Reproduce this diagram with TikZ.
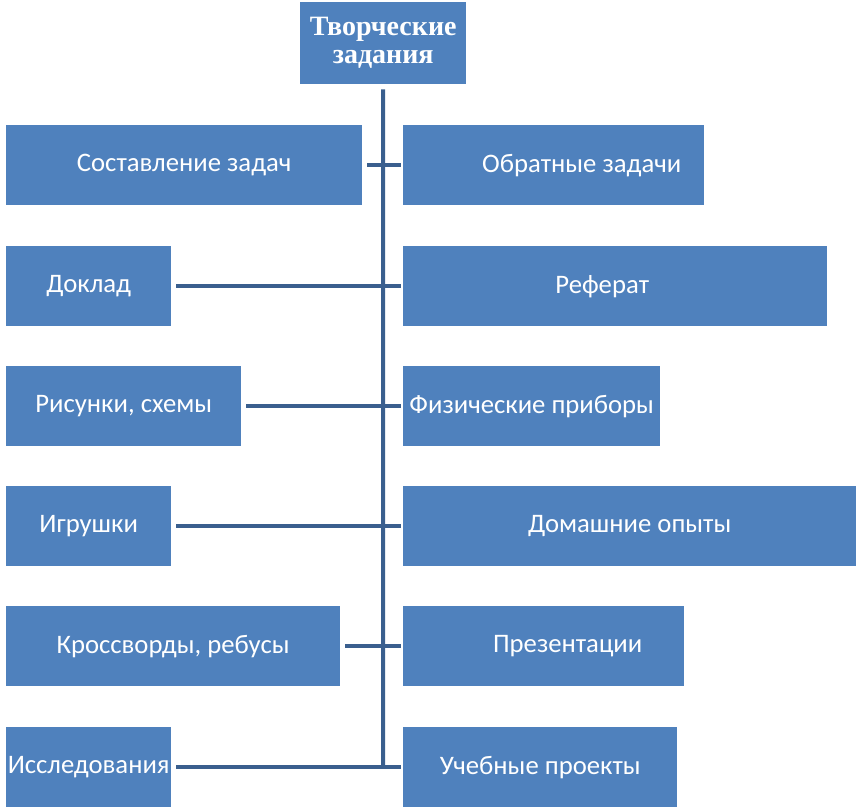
\documentclass[tikz,border=0pt]{standalone}
\usepackage{fontspec}
\setmainfont{Carlito}
\newfontfamily\titlefont{Liberation Serif}
\definecolor{boxblue}{RGB}{79,129,189}
\definecolor{lineblue}{RGB}{58,95,142}
\begin{document}
\begin{tikzpicture}[x=1pt,y=-1pt,
  box/.style={fill=boxblue, text=white, anchor=north west, minimum height=80, inner sep=0pt, font=\fontsize{26.7}{30}\selectfont},
  lbl/.style={text=white, inner sep=0pt, font=\fontsize{26.7}{30}\selectfont},
  link/.style={draw=lineblue, line width=4pt}]
  \useasboundingbox (0,0) rectangle (862,811);
  %top
  \node[box, minimum width=166, minimum height=82, align=center, font=\titlefont\bfseries\fontsize{28}{28}\selectfont] (top) at (300,2) {Творческие\\задания};
  \coordinate (bot) at (383,768);

  \node[box, minimum width=356] (l1) at (6,125) {Составление задач};
  \node[box, minimum width=165] (l2) at (6,246) {Доклад};
  \node[box, minimum width=235] (l3) at (6,366) {Рисунки, схемы};
  \node[box, minimum width=165] (l4) at (6,486) {Игрушки};
  \node[box, minimum width=334] (l5) at (6,606) {Кроссворды, ребусы};
  \node[box, minimum width=165] (l6) at (6,727) {Исследования};

  \node[box, minimum width=301, label={[lbl, xshift=28]center:Обратные задачи}] (r1) at (403,125) {};
  \node[box, minimum width=424, label={[lbl, xshift=-13]center:Реферат}] (r2) at (403,246) {};
  \node[box, minimum width=257] (r3) at (403,366) {Физические приборы};
  \node[box, minimum width=453] (r4) at (403,486) {Домашние опыты};
  \node[box, minimum width=281, label={[lbl, xshift=24]center:Презентации}] (r5) at (403,606) {};
  \node[box, minimum width=274] (r6) at (403,727) {Учебные проекты};

  \draw[link] ([yshift=-5]top.south) -- (bot);
  \draw[link] ([xshift=5]l1.east) -- ([xshift=-2]r1.west);
  \draw[link] ([xshift=5]l2.east) -- ([xshift=-2]r2.west);
  \draw[link] ([xshift=5]l3.east) -- ([xshift=-2]r3.west);
  \draw[link] ([xshift=5]l4.east) -- ([xshift=-2]r4.west);
  \draw[link] ([xshift=5]l5.east) -- ([xshift=-2]r5.west);
  \draw[link] ([xshift=5]l6.east) -- ([xshift=-2]r6.west);
\end{tikzpicture}
\end{document}
